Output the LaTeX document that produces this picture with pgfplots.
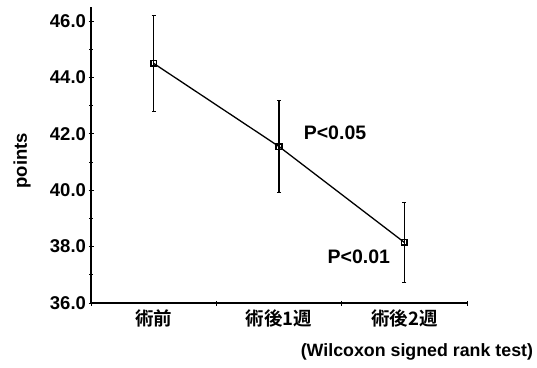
\documentclass[border=0pt]{standalone}
\usepackage{pgfplots}
\pgfplotsset{compat=1.18}
\usepackage{fontspec}
\setmainfont{Liberation Sans}
\newfontfamily\cjk{Noto Sans CJK JP}[BoldFont={* Bold}]
\begin{document}
\begin{tikzpicture}[x=1pt,y=1pt]
\path[use as bounding box] (0,0) rectangle (537,367);
\begin{axis}[
  at={(91pt,64pt)}, anchor=south west,
  scale only axis, width=376pt, height=296pt,
  axis lines=left, axis line style={line width=1.4pt, -},
  xmin=0, xmax=3, ymin=36, ymax=46.5,
  xtick={0,1,2,3}, xticklabels={},
  extra x ticks={0.5,1.5,2.5},
  extra x tick labels={\cjk\bfseries 術前,\cjk\bfseries 術後1週,\cjk\bfseries 術後2週},
  extra x tick style={major tick length=0pt, tick label style={font=\fontsize{18.5}{20}\selectfont, yshift=-3pt}},
  ytick={36,38,40,42,44,46},
  minor ytick={37,39,41,43,45},
  /pgf/number format/assume math mode=true,
  tick label style={font=\fontsize{18.5}{20}\selectfont\bfseries},
  yticklabel style={xshift=1pt, /pgf/number format/.cd, fixed, fixed zerofill, precision=1},
  tick align=center, major tick length=5pt, minor tick length=4pt,
  tick style={line width=1pt, black},
  clip=false,
]
\addplot[black, line width=1.3pt, mark=square, mark size=2.8pt, mark options={line width=1.6pt},
  error bars/.cd, y dir=both, y explicit, error bar style={line width=1.1pt}, error mark options={rotate=90, mark size=2pt, line width=1.1pt}]
  coordinates {
  (0.5,44.5) +- (0,1.7)
  (1.5,41.55) +- (0,1.62)
  (2.5,38.15) +- (0,1.42)
  };
\node[rotate=90, font=\fontsize{18.5}{20}\selectfont\bfseries] at (axis cs:-0.55,41.05) {points};
\node[anchor=west, font=\fontsize{19.5}{21}\selectfont\bfseries] at (axis cs:1.67,42.05) {P<0.05};
\node[anchor=west, font=\fontsize{19.5}{21}\selectfont\bfseries] at (axis cs:1.86,37.65) {P<0.01};
\node[anchor=east, font=\fontsize{17.8}{20}\selectfont\bfseries] at (rel axis cs:1.185,-0.165) {(Wilcoxon signed rank test)};
\end{axis}
\end{tikzpicture}
\end{document}
